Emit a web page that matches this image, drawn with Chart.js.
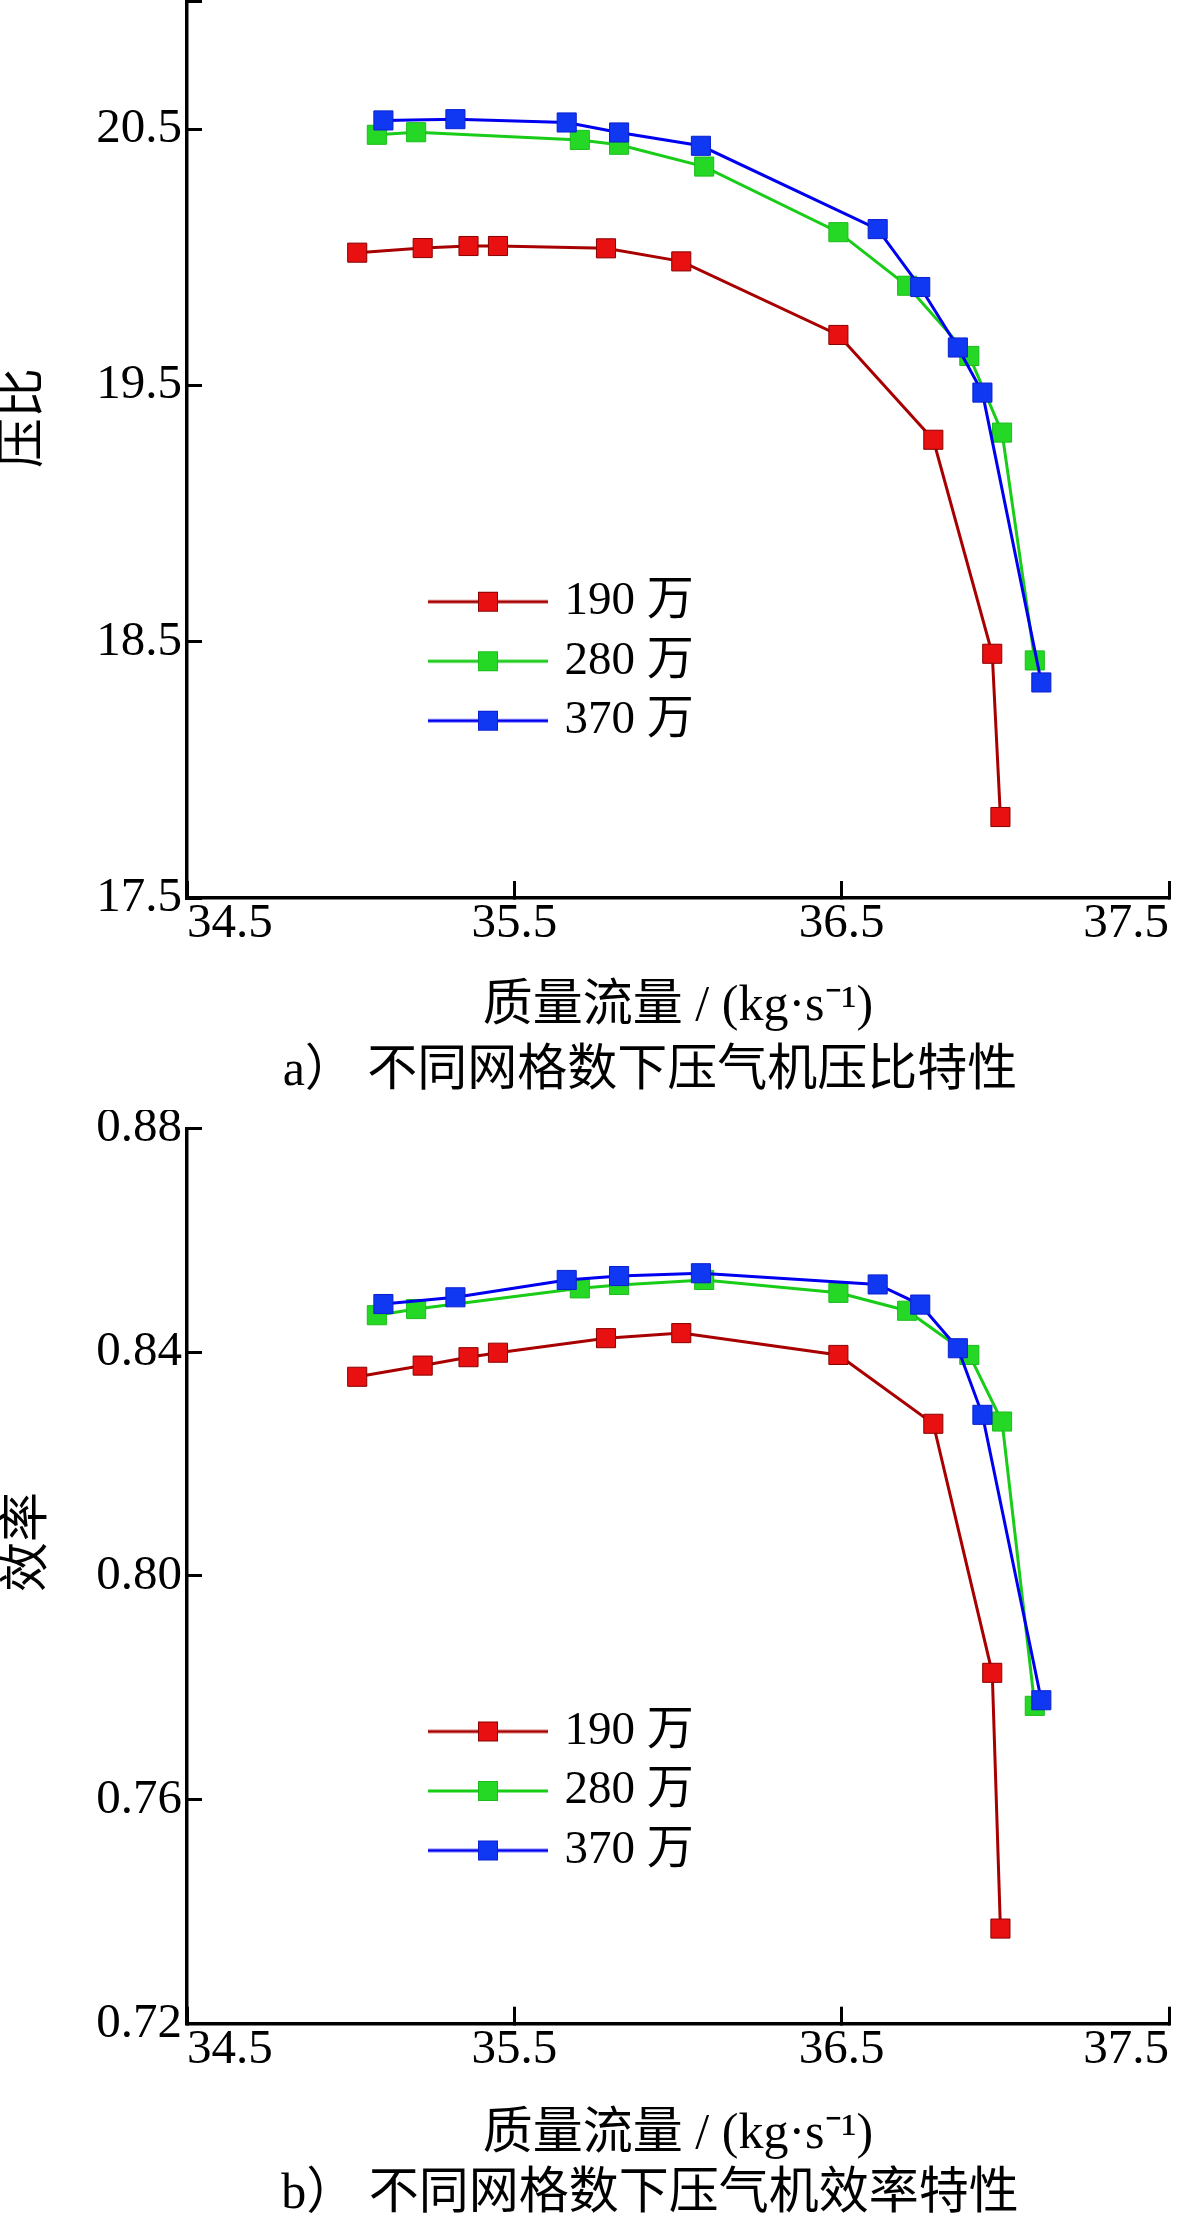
<!DOCTYPE html>
<html><head><meta charset="utf-8">
<script src="https://cdn.jsdelivr.net/npm/chart.js@4.4.1/dist/chart.umd.min.js"></script>
<style>
html,body{margin:0;padding:0;background:#fff;}
body{width:1200px;height:2225px;position:relative;overflow:hidden;}
canvas{position:absolute;left:0;}
#c1{top:0;}
#c2{top:1110px;}
</style></head><body>
<canvas id="c1" width="1200" height="1110"></canvas>
<canvas id="c2" width="1200" height="1115"></canvas>
<script>
// ---------- data ----------
const seriesLabels = ['190 万', '280 万', '370 万'];
const massFlow190 = [35.02, 35.22, 35.36, 35.45, 35.78, 36.01, 36.49, 36.78, 36.96, 36.985];
const massFlow280 = [35.08, 35.20, 35.70, 35.82, 36.08, 36.49, 36.70, 36.89, 36.99, 37.09];
const massFlow370 = [35.10, 35.32, 35.66, 35.82, 36.07, 36.61, 36.74, 36.855, 36.93, 37.11];
const pressureRatio190 = [20.018, 20.036, 20.044, 20.044, 20.035, 19.984, 19.697, 19.288, 18.453, 17.816];
const pressureRatio280 = [20.478, 20.488, 20.458, 20.439, 20.354, 20.098, 19.889, 19.615, 19.316, 18.427];
const pressureRatio370 = [20.534, 20.539, 20.526, 20.487, 20.435, 20.110, 19.884, 19.648, 19.472, 18.341];
const efficiency190 = [0.8356, 0.8376, 0.8391, 0.8399, 0.8425, 0.8434, 0.8395, 0.8272, 0.7827, 0.7370];
const efficiency280 = [0.8466, 0.8477, 0.8514, 0.8520, 0.8529, 0.8506, 0.8474, 0.8395, 0.8276, 0.7768];
const efficiency370 = [0.8486, 0.8498, 0.8529, 0.8536, 0.8541, 0.8521, 0.8485, 0.8407, 0.8288, 0.7778];
const flowTicks = [34.5, 35.5, 36.5, 37.5];
const flowTickLabels = ['34.5', '35.5', '36.5', '37.5'];
const prTicks = [17.5, 18.5, 19.5, 20.5, 21.0];
const prTickLabels = ['17.5', '18.5', '19.5', '20.5', ''];
const effTicks = [0.72, 0.76, 0.80, 0.84, 0.88];
const effTickLabels = ['0.72', '0.76', '0.80', '0.84', '0.88'];
const xTitle = '质量流量 / (kg·s⁻¹)';
const captionA = 'a） 不同网格数下压气机压比特性';
const captionB = 'b） 不同网格数下压气机效率特性';
const yTitleA = '压比';
const yTitleB = '效率';

// ---------- styles ----------
const FONT = "'Liberation Serif', 'Noto Sans CJK SC', serif";
const TICK_SIZE = 49;
const lineColors = ['#a80000', '#18cc18', '#0000f0'];
const fillColors = ['#e81010', '#26d826', '#1038f2'];
const edgeColors = ['#8a0000', '#1cbc1c', '#0a20d0'];

function makeIcon(i) {
  const c = document.createElement('canvas');
  c.width = 120; c.height = 24;
  const g = c.getContext('2d');
  g.strokeStyle = lineColors[i]; g.lineWidth = 3;
  g.beginPath(); g.moveTo(0, 12); g.lineTo(120, 12); g.stroke();
  g.fillStyle = fillColors[i]; g.fillRect(50, 2, 20, 20);
  g.strokeStyle = edgeColors[i]; g.lineWidth = 1; g.strokeRect(50.5, 2.5, 19, 19);
  return c;
}
const legendIcons = [0, 1, 2].map(makeIcon);

function widestLabel(labels) {
  const g = document.createElement('canvas').getContext('2d');
  g.font = TICK_SIZE + 'px ' + FONT;
  return Math.max(...labels.map(t => g.measureText(t).width));
}

// positions the legend box and the y-title axis after Chart.js layout
const placer = {
  id: 'placer',
  afterLayout(chart) {
    const p = chart.options.plugins.placer;
    if (!p) return;
    const lg = chart.legend;
    if (lg) {
      const w = lg.width, h = lg.height;
      lg.left = p.legendLeft; lg.top = p.legendTop; lg.right = p.legendLeft + w; lg.bottom = p.legendTop + h;
    }
    const t = chart.scales.yTitle;
    if (t) { t.top = p.yTitleCenter - 200; t.bottom = p.yTitleCenter + 200; }
  }
};

function pts(xs, ys) { return xs.map((x, i) => ({x: x, y: ys[i]})); }

function ds(i, data) {
  return {
    label: seriesLabels[i], data: data,
    borderColor: lineColors[i], backgroundColor: fillColors[i],
    pointBackgroundColor: fillColors[i], pointBorderColor: edgeColors[i],
    pointBorderWidth: 1, pointStyle: 'rect', pointRadius: 13.5, pointHoverRadius: 13.5,
    borderWidth: 3, tension: 0, order: 2 - i
  };
}

const LEFT_PAD = 131;
const AXIS_X = 187;

function makeChart(id, o) {
  const widest = widestLabel(o.yLabels);
  new Chart(document.getElementById(id), {
    type: 'line',
    data: { datasets: [ds(0, o.d[0]), ds(1, o.d[1]), ds(2, o.d[2])] },
    plugins: [placer],
    options: {
      responsive: false, animation: false, devicePixelRatio: 1, events: [],
      layout: { autoPadding: false, padding: { left: LEFT_PAD, right: 31, top: o.padTop, bottom: o.padBottom } },
      plugins: {
        tooltip: { enabled: false },
        placer: { legendLeft: 422.5, legendTop: o.legendTop, yTitleCenter: o.yTitleCenter },
        legend: {
          display: true, position: 'chartArea', align: 'start',
          labels: {
            usePointStyle: true, pointStyleWidth: 106, padding: 12.5, color: '#000',
            font: { family: FONT, size: 47 },
            generateLabels: (chart) => chart.data.datasets.map((d, i) => ({
              text: d.label, pointStyle: legendIcons[i], fillStyle: fillColors[i],
              strokeStyle: lineColors[i], lineWidth: 0, hidden: false, datasetIndex: i, fontColor: '#000'
            }))
          }
        },
        title: {
          display: true, position: 'bottom', fullSize: true, text: o.caption, color: '#000',
          font: { family: FONT, size: 50, weight: 'normal', lineHeight: 1.2 },
          padding: { top: 0, bottom: 0 }
        }
      },
      scales: {
        x: {
          type: 'linear', position: 'bottom', min: 34.5, max: 37.5,
          afterBuildTicks: (s) => { s.ticks = flowTicks.map(v => ({value: v})); },
          afterFit: (s) => { s.height = o.xHeight; s.paddingLeft = 0; s.paddingRight = 0; },
          ticks: {
            autoSkip: false, maxRotation: 0, align: 'inner', padding: 14, color: '#000',
            font: { family: FONT, size: TICK_SIZE, lineHeight: 1.2 },
            callback: (v, i) => flowTickLabels[i]
          },
          grid: { display: true, drawOnChartArea: false, drawTicks: true, tickLength: -17, tickWidth: 3, tickColor: '#000' },
          border: { display: true, color: '#000', width: 3.5 },
          title: {
            display: true, text: xTitle, color: '#000',
            font: { family: FONT, size: 50, lineHeight: 1.2 },
            padding: { top: 0, bottom: o.xTitlePad }
          }
        },
        y: {
          type: 'linear', position: 'left', weight: 0, min: o.yMin, max: o.yMax,
          afterBuildTicks: (s) => { s.ticks = o.yTicks.map(v => ({value: v})); },
          afterFit: (s) => { s.width = AXIS_X - LEFT_PAD; s.paddingTop = 0; s.paddingBottom = 0; },
          ticks: {
            autoSkip: false, mirror: true, crossAlign: 'near', padding: -(widest + 5), color: '#000',
            font: { family: FONT, size: TICK_SIZE, lineHeight: 1.2 },
            callback: (v, i) => o.yLabels[i]
          },
          grid: { display: true, drawOnChartArea: false, drawTicks: true, tickLength: -15, tickWidth: 3, tickColor: '#000' },
          border: { display: true, color: '#000', width: 3.5 },
          title: { display: false }
        },
        yTitle: {
          axis: 'y', type: 'linear', position: 'left', weight: 1, display: true, min: 0, max: 1,
          afterFit: (s) => { s.width = 0; s.paddingTop = 0; s.paddingBottom = 0; },
          ticks: { display: false },
          grid: { display: false, drawTicks: false },
          border: { display: false },
          title: {
            display: true, text: o.yTitle, color: '#000',
            font: { family: FONT, size: 50, lineHeight: 1.0 },
            padding: { top: o.yTitleX - LEFT_PAD - 25, bottom: 0 }
          }
        }
      }
    }
  });
}

makeChart('c1', {
  d: [pts(massFlow190, pressureRatio190), pts(massFlow280, pressureRatio280), pts(massFlow370, pressureRatio370)],
  padTop: 1, padBottom: 8, xHeight: 144, xTitlePad: 5,
  yMin: 17.5, yMax: 21.0, yTicks: prTicks, yLabels: prTickLabels,
  yTitle: yTitleA, yTitleX: 25, yTitleCenter: 418, caption: captionA, legendTop: 565.7
});
makeChart('c2', {
  d: [pts(massFlow190, efficiency190), pts(massFlow280, efficiency280), pts(massFlow370, efficiency370)],
  padTop: 18.3, padBottom: 0, xHeight: 141.3, xTitlePad: 0,
  yMin: 0.72, yMax: 0.88, yTicks: effTicks, yLabels: effTickLabels,
  yTitle: yTitleB, yTitleX: 29, yTitleCenter: 432, caption: captionB, legendTop: 585.5
});
</script></body></html>
